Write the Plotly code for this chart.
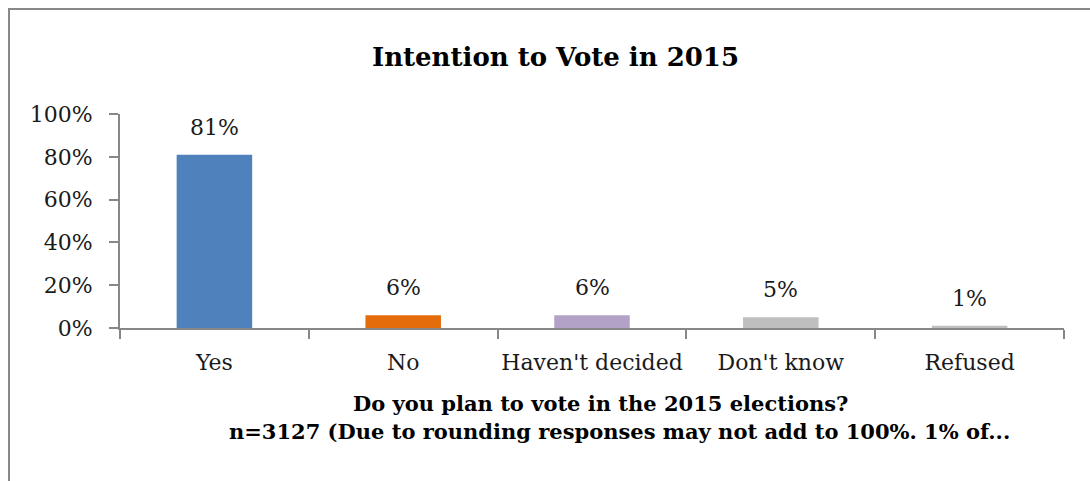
import plotly.graph_objects as go

# Survey responses
categories = ["Yes", "No", "Haven't decided", "Don't know", "Refused"]
shares = [81, 6, 6, 5, 1]
bar_colors = ["#4F81BD", "#E46C0A", "#B3A2C7", "#BFBFBF", "#BFBFBF"]
y_ticks = [0, 20, 40, 60, 80, 100]
y_tick_text = ["0%", "20%", "40%", "60%", "80%", "100%"]

FONT = "DejaVu Serif"
AXIS_GREY = "#878787"
TEXT = "#1a1a1a"

fig = go.Figure(
    go.Bar(
        x=categories,
        y=shares,
        marker=dict(color=bar_colors, line=dict(width=0)),
        width=0.4,
        hoverinfo="skip",
    )
)

# value labels above each bar
for cat, val in zip(categories, shares):
    fig.add_annotation(
        x=cat, y=val, text=f"{val}%", showarrow=False,
        yanchor="bottom", yshift=13,
        font=dict(family=FONT, size=22, color=TEXT),
    )

fig.update_layout(
    width=1090,
    height=481,
    margin=dict(l=120, r=26, t=114, b=153),
    paper_bgcolor="white",
    plot_bgcolor="white",
    showlegend=False,
    font=dict(family=FONT, size=22, color=TEXT),
    xaxis=dict(
        type="category",
        showline=True, linecolor=AXIS_GREY, linewidth=2,
        ticks="outside", tickson="boundaries", ticklen=9,
        tickcolor=AXIS_GREY, tickwidth=2,
        tickangle=0,
        ticklabelstandoff=14,
        tickfont=dict(family=FONT, size=22, color=TEXT),
        showgrid=False, zeroline=False,
    ),
    yaxis=dict(
        range=[0, 100],
        tickvals=y_ticks, ticktext=y_tick_text,
        showline=True, linecolor=AXIS_GREY, linewidth=2,
        ticks="outside", ticklen=9, tickcolor=AXIS_GREY, tickwidth=2,
        ticklabelstandoff=12,
        tickfont=dict(family=FONT, size=22, color=TEXT),
        showgrid=False, zeroline=False,
    ),
)

# chart title
fig.add_annotation(
    xref="paper", yref="paper", x=0.461, y=1.0, yshift=57,
    text="<b>Intention to Vote in 2015</b>", showarrow=False,
    xanchor="center", yanchor="middle",
    font=dict(family=FONT, size=26, color="#000000"),
)

# axis title, two lines
fig.add_annotation(
    xref="paper", yref="paper", x=0.509, y=0, yshift=-75,
    text="<b>Do you plan to vote in the 2015 elections?</b>", showarrow=False,
    xanchor="center", yanchor="middle",
    font=dict(family=FONT, size=21, color="#000000"),
)
fig.add_annotation(
    xref="paper", yref="paper", x=0.529, y=0, yshift=-103,
    text="<b>n=3127 (Due to rounding responses may not add to 100%. 1% of...</b>",
    showarrow=False, xanchor="center", yanchor="middle",
    font=dict(family=FONT, size=21, color="#000000"),
)

# chart frame: left and top edges only visible
fig.add_shape(
    type="rect", xref="paper", yref="paper",
    x0=-111 / 944, x1=1200 / 944, y0=-200 / 214, y1=1 + 105 / 214,
    line=dict(color="#888888", width=2), fillcolor="rgba(0,0,0,0)",
    layer="below",
)

fig.write_html("out.html")
